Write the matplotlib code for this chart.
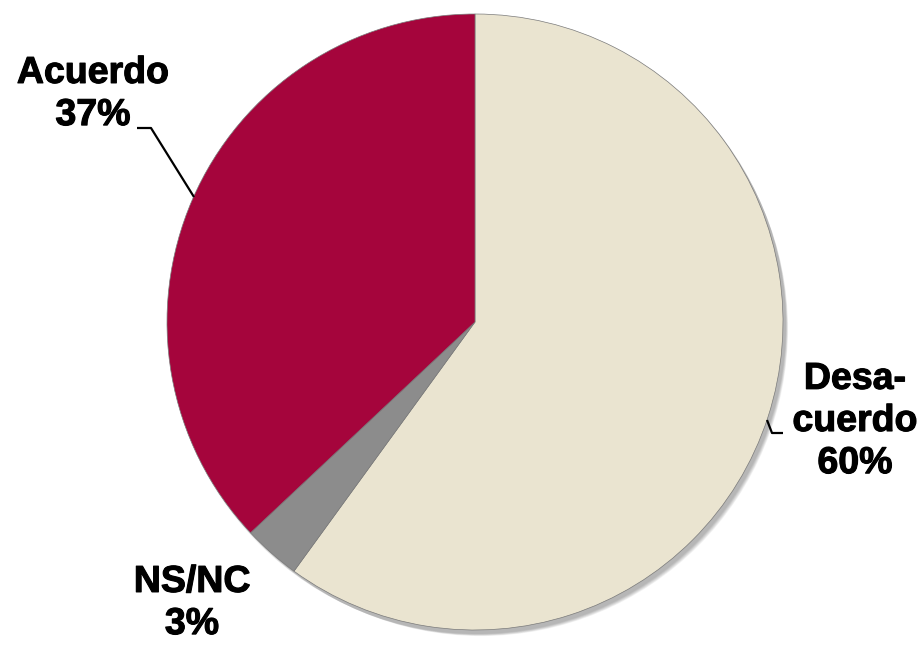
import matplotlib
matplotlib.use("Agg")
import matplotlib.pyplot as plt
from matplotlib.patches import Circle
import matplotlib.patheffects as pe

labels = ["Desa-\ncuerdo\n60%", "NS/NC\n3%", "Acuerdo\n37%"]
values = [60, 3, 37]
colors = ["#EAE4D0", "#8C8C8C", "#A5053C"]

W, H = 924, 645
fig = plt.figure(figsize=(W / 100, H / 100), dpi=100)
ax = fig.add_axes([0, 0, 1, 1])
ax.set_xlim(0, W)
ax.set_ylim(0, H)
ax.set_aspect("equal")
ax.axis("off")

cx, cy, r = 475, H - 322, 308

# soft shadow
for i in range(8):
    ax.add_patch(Circle((cx + 2 + i * 0.6, cy - 3 - i * 0.6), r + 1 - i * 0.3,
                        color="#000000", alpha=0.04, lw=0, zorder=0))

wedges, _ = ax.pie(values, colors=colors, startangle=90, counterclock=False,
                   center=(cx, cy), radius=r, frame=True,
                   wedgeprops=dict(edgecolor="#7a7a7a", linewidth=0.5))
ax.set_xlim(0, W)
ax.set_ylim(0, H)
ax.axis("off")

font = dict(family=["Liberation Sans", "DejaVu Sans"], fontweight="bold",
            fontsize=27, color="black", ha="center", linespacing=1.22,
            path_effects=[pe.withStroke(linewidth=0.8, foreground="black")])

ax.text(93, H - 94, labels[2], va="center", **font)
ax.text(855, H - 421, labels[0], va="center", **font)
ax.text(192, H - 603, labels[1], va="center", **font)

# leader lines
ax.plot([137, 151, 194], [H - 128, H - 128, H - 197], color="black", lw=1.6,
        solid_capstyle="butt")
ax.plot([767, 772, 783], [H - 420, H - 433, H - 433], color="black", lw=1.6,
        solid_capstyle="butt")

fig.savefig("out.png", dpi=100, facecolor="white")
